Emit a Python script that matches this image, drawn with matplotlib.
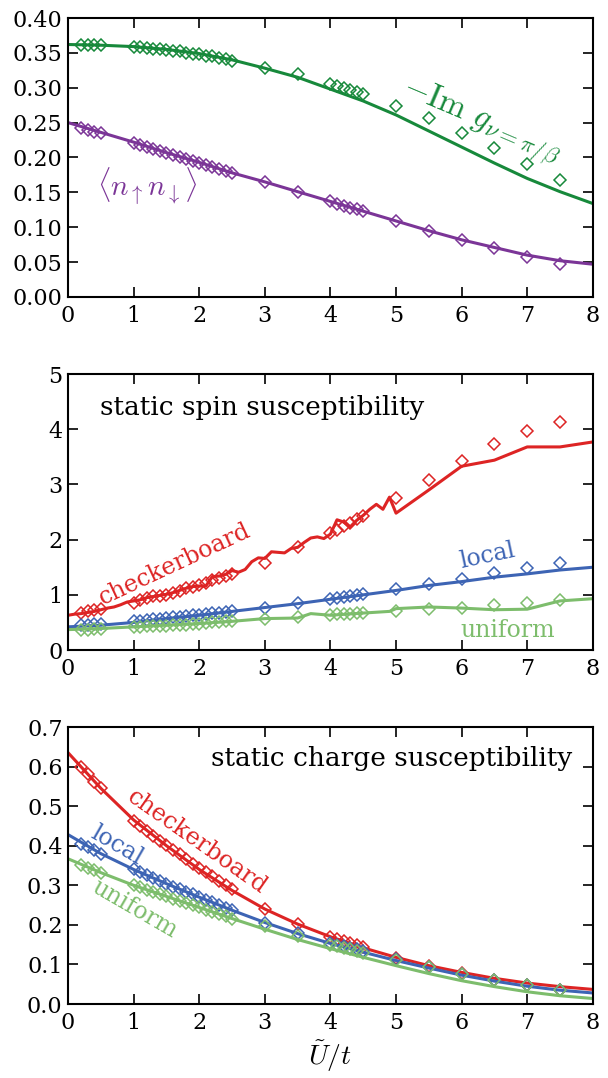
import matplotlib
matplotlib.use("Agg")
import matplotlib.pyplot as plt

plt.rcParams['font.family'] = ['DejaVu Serif']
plt.rcParams['mathtext.fontset'] = 'cm'
plt.rcParams['xtick.direction'] = 'in'
plt.rcParams['ytick.direction'] = 'in'
plt.rcParams['xtick.top'] = True
plt.rcParams['ytick.right'] = True
plt.rcParams['xtick.major.size'] = 7
plt.rcParams['ytick.major.size'] = 7
plt.rcParams['xtick.major.width'] = 1.2
plt.rcParams['ytick.major.width'] = 1.2
plt.rcParams['xtick.major.pad'] = 6
plt.rcParams['ytick.major.pad'] = 4
plt.rcParams['axes.linewidth'] = 1.5
plt.rcParams['font.size'] = 16

# marker positions (U/t)
xm = [0.2, 0.3, 0.4, 0.5,
      1.0, 1.1, 1.2, 1.3, 1.4, 1.5, 1.6, 1.7, 1.8, 1.9, 2.0, 2.1, 2.2, 2.3, 2.4, 2.5,
      3.0, 3.5,
      4.0, 4.1, 4.2, 4.3, 4.4, 4.5,
      5.0, 5.5, 6.0, 6.5, 7.0, 7.5]
# line positions
xl = [0.0, 0.5, 1.0, 1.5, 2.0, 2.5, 3.0, 3.5, 4.0, 4.5, 5.0, 5.5, 6.0, 6.5, 7.0, 7.5, 8.0]

# top panel
img_line = [0.362, 0.361, 0.359, 0.355, 0.349, 0.340, 0.328, 0.315, 0.298, 0.281, 0.261,
            0.238, 0.215, 0.192, 0.170, 0.151, 0.134]
img_pts = [0.361, 0.361, 0.361, 0.361,
           0.358, 0.358, 0.357, 0.356, 0.355, 0.354, 0.353, 0.352, 0.350, 0.349, 0.348,
           0.346, 0.345, 0.343, 0.341, 0.339,
           0.329, 0.319,
           0.305, 0.302, 0.299, 0.297, 0.294, 0.291,
           0.274, 0.256, 0.235, 0.214, 0.191, 0.168]
dbl_line = [0.250, 0.236, 0.222, 0.207, 0.193, 0.178, 0.165, 0.151, 0.137, 0.123, 0.109,
            0.095, 0.082, 0.071, 0.060, 0.052, 0.047]
dbl_pts = [0.242, 0.239, 0.237, 0.235,
           0.221, 0.218, 0.215, 0.212, 0.209, 0.206, 0.204, 0.201, 0.198, 0.195, 0.192,
           0.189, 0.187, 0.184, 0.181, 0.178,
           0.165, 0.150,
           0.137, 0.134, 0.131, 0.128, 0.126, 0.123,
           0.109, 0.095, 0.082, 0.070, 0.058, 0.047]

# middle panel: spin susceptibility
xs_chk = [0.0, 0.1, 0.2, 0.3, 0.4, 0.5, 0.6, 0.7, 0.8, 0.9,
          1.0, 1.1, 1.2, 1.3, 1.4, 1.5, 1.6, 1.7, 1.8, 1.9,
          2.0, 2.1, 2.2, 2.3, 2.4, 2.5, 2.6, 2.7, 2.8, 2.9,
          3.0, 3.1, 3.2, 3.3, 3.4, 3.5, 3.6, 3.7, 3.8, 3.9,
          4.0, 4.1, 4.2, 4.3, 4.4, 4.5, 4.6, 4.7, 4.8, 4.9,
          5.0, 5.5, 6.0, 6.5, 7.0, 7.5, 8.0]
spin_chk_line = [0.63, 0.65, 0.66, 0.68, 0.70, 0.73, 0.76, 0.78, 0.82, 0.87,
                 0.89, 0.91, 0.95, 0.97, 0.99, 1.01, 1.04, 1.08, 1.12, 1.15,
                 1.16, 1.16, 1.33, 1.34, 1.37, 1.44, 1.41, 1.46, 1.60, 1.67,
                 1.66, 1.78, 1.77, 1.76, 1.84, 1.86, 1.95, 2.03, 2.05, 2.02,
                 2.10, 2.36, 2.32, 2.23, 2.35, 2.44, 2.55, 2.64, 2.55, 2.77,
                 2.48, 2.90, 3.33, 3.44, 3.68, 3.68, 3.77]
spin_chk_pts = [0.68, 0.70, 0.72, 0.74,
                0.86, 0.91, 0.94, 0.97, 0.98, 1.00, 1.03, 1.07, 1.12, 1.14, 1.18,
                1.22, 1.27, 1.30, 1.34, 1.38,
                1.58, 1.87,
                2.12, 2.18, 2.24, 2.30, 2.37, 2.43,
                2.76, 3.08, 3.42, 3.73, 3.96, 4.14]
spin_loc_line = [0.42, 0.45, 0.50, 0.57, 0.63, 0.70, 0.77, 0.84, 0.92, 1.00, 1.08,
                 1.17, 1.24, 1.32, 1.38, 1.45, 1.50]
spin_loc_pts = [0.45, 0.46, 0.47, 0.47,
                0.52, 0.53, 0.54, 0.56, 0.57, 0.58, 0.59, 0.60, 0.62, 0.63, 0.64,
                0.65, 0.67, 0.68, 0.69, 0.71,
                0.77, 0.85,
                0.93, 0.95, 0.96, 0.98, 0.99, 1.01,
                1.10, 1.20, 1.29, 1.39, 1.49, 1.58]
xs_uni = [0.0, 0.5, 1.0, 1.5, 2.0, 2.5, 3.0, 3.5, 3.7, 4.0, 4.5, 4.9, 5.0, 5.5, 6.0, 6.5, 7.0, 7.5, 8.0]
spin_uni_line = [0.37, 0.39, 0.42, 0.45, 0.48, 0.52, 0.57, 0.58, 0.66, 0.63, 0.67, 0.70, 0.75,
                 0.78, 0.76, 0.73, 0.74, 0.89, 0.93]
spin_uni_pts = [0.37, 0.37, 0.38, 0.38,
                0.42, 0.42, 0.43, 0.43, 0.44, 0.44, 0.45, 0.46, 0.46, 0.47, 0.48,
                0.49, 0.50, 0.51, 0.52, 0.53,
                0.56, 0.60,
                0.64, 0.65, 0.65, 0.66, 0.67, 0.67,
                0.70, 0.74, 0.77, 0.82, 0.86, 0.90]

# bottom panel: charge susceptibility
chg_chk_line = [0.635, 0.545, 0.465, 0.400, 0.340, 0.287, 0.240, 0.202, 0.170, 0.142, 0.118,
                0.097, 0.080, 0.065, 0.053, 0.044, 0.037]
chg_chk_pts = [0.600, 0.580, 0.562, 0.545,
               0.462, 0.450, 0.438, 0.425, 0.413, 0.401, 0.389, 0.378, 0.366, 0.355, 0.344,
               0.333, 0.323, 0.312, 0.302, 0.290,
               0.240, 0.203,
               0.170, 0.165, 0.159, 0.154, 0.149, 0.144,
               0.116, 0.096, 0.079, 0.062, 0.048, 0.035]
chg_loc_line = [0.428, 0.380, 0.340, 0.304, 0.270, 0.237, 0.206, 0.178, 0.153, 0.131, 0.110,
                0.091, 0.073, 0.058, 0.045, 0.035, 0.028]
chg_loc_pts = [0.405, 0.396, 0.388, 0.380,
               0.340, 0.333, 0.326, 0.318, 0.311, 0.304, 0.297, 0.290, 0.283, 0.277, 0.270,
               0.263, 0.257, 0.250, 0.243, 0.237,
               0.205, 0.180,
               0.155, 0.150, 0.146, 0.142, 0.138, 0.134,
               0.113, 0.094, 0.077, 0.061, 0.047, 0.035]
chg_uni_line = [0.367, 0.332, 0.300, 0.272, 0.244, 0.216, 0.189, 0.163, 0.140, 0.118, 0.097,
                0.077, 0.059, 0.044, 0.031, 0.021, 0.014]
chg_uni_pts = [0.352, 0.345, 0.339, 0.332,
               0.300, 0.295, 0.289, 0.283, 0.278, 0.272, 0.266, 0.261, 0.255, 0.250, 0.244,
               0.238, 0.233, 0.227, 0.222, 0.216,
               0.197, 0.172,
               0.150, 0.146, 0.142, 0.138, 0.134, 0.130,
               0.111, 0.093, 0.077, 0.060, 0.047, 0.035]

c_green = '#17893b'
c_purple = '#7b3597'
c_red = '#dd2424'
c_blue = '#3d64b4'
c_lgreen = '#7dbd6c'

lw = 2.2
mk = dict(marker='D', ms=6, mfc='none', mew=1.1, ls='none')
fs_lab = 19   # panel titles
fs_cur = 17   # curve labels


def line_pts(ax, x_line, y_line, y_pts, col):
    ax.plot(x_line, y_line, color=col, lw=lw)
    ax.plot(xm, y_pts, color=col, mec=col, **mk)


fig = plt.figure(figsize=(6.08, 10.78), dpi=100)
L, W = 0.112, 0.863

# top
ax1 = fig.add_axes([L, 0.7245, W, 0.2588])
line_pts(ax1, xl, img_line, img_pts, c_green)
line_pts(ax1, xl, dbl_line, dbl_pts, c_purple)
ax1.set_xlim(0, 8)
ax1.set_ylim(0, 0.4)
ax1.set_yticks([0.0, 0.05, 0.10, 0.15, 0.20, 0.25, 0.30, 0.35, 0.40])
ax1.set_yticklabels(['0.00', '0.05', '0.10', '0.15', '0.20', '0.25', '0.30', '0.35', '0.40'])
ax1.text(6.3, 0.25, r'$-\mathrm{Im}\ g_{\nu=\pi/\beta}$', color=c_green, fontsize=24,
         rotation=-23, ha='center', va='center')
ax1.text(1.2, 0.16, r'$\langle n_\uparrow n_\downarrow\rangle$', color=c_purple, fontsize=21,
         rotation=0, ha='center', va='center')

# middle
ax2 = fig.add_axes([L, 0.397, W, 0.256])
ax2.plot(xs_chk, spin_chk_line, color=c_red, lw=lw)
ax2.plot(xm, spin_chk_pts, color=c_red, mec=c_red, **mk)
line_pts(ax2, xl, spin_loc_line, spin_loc_pts, c_blue)
ax2.plot(xs_uni, spin_uni_line, color=c_lgreen, lw=lw)
ax2.plot(xm, spin_uni_pts, color=c_lgreen, mec=c_lgreen, **mk)
ax2.set_xlim(0, 8)
ax2.set_ylim(0, 5)
ax2.text(0.48, 4.4, 'static spin susceptibility', fontsize=fs_lab, ha='left', va='center')
ax2.text(1.63, 1.55, 'checkerboard', color=c_red, fontsize=fs_cur, rotation=25,
         ha='center', va='center')
ax2.text(6.4, 1.7, 'local', color=c_blue, fontsize=fs_cur, rotation=12,
         ha='center', va='center')
ax2.text(6.7, 0.36, 'uniform', color=c_lgreen, fontsize=fs_cur, ha='center', va='center')

# bottom
ax3 = fig.add_axes([L, 0.0686, W, 0.257])
line_pts(ax3, xl, chg_chk_line, chg_chk_pts, c_red)
line_pts(ax3, xl, chg_loc_line, chg_loc_pts, c_blue)
line_pts(ax3, xl, chg_uni_line, chg_uni_pts, c_lgreen)
ax3.set_xlim(0, 8)
ax3.set_ylim(0, 0.7)
ax3.set_yticks([0.0, 0.1, 0.2, 0.3, 0.4, 0.5, 0.6, 0.7])
ax3.text(7.68, 0.62, 'static charge susceptibility', fontsize=fs_lab, ha='right', va='center')
ax3.text(1.97, 0.41, 'checkerboard', color=c_red, fontsize=fs_cur, rotation=-35,
         ha='center', va='center')
ax3.text(0.75, 0.40, 'local', color=c_blue, fontsize=fs_cur, rotation=-30,
         ha='center', va='center')
ax3.text(1.02, 0.24, 'uniform', color=c_lgreen, fontsize=fs_cur, rotation=-30,
         ha='center', va='center')
ax3.set_xlabel(r'$\tilde{U}/t$', fontsize=20, labelpad=3)

for ax in (ax1, ax2, ax3):
    ax.set_xticks([0, 1, 2, 3, 4, 5, 6, 7, 8])

fig.savefig('out.png', dpi=100)
